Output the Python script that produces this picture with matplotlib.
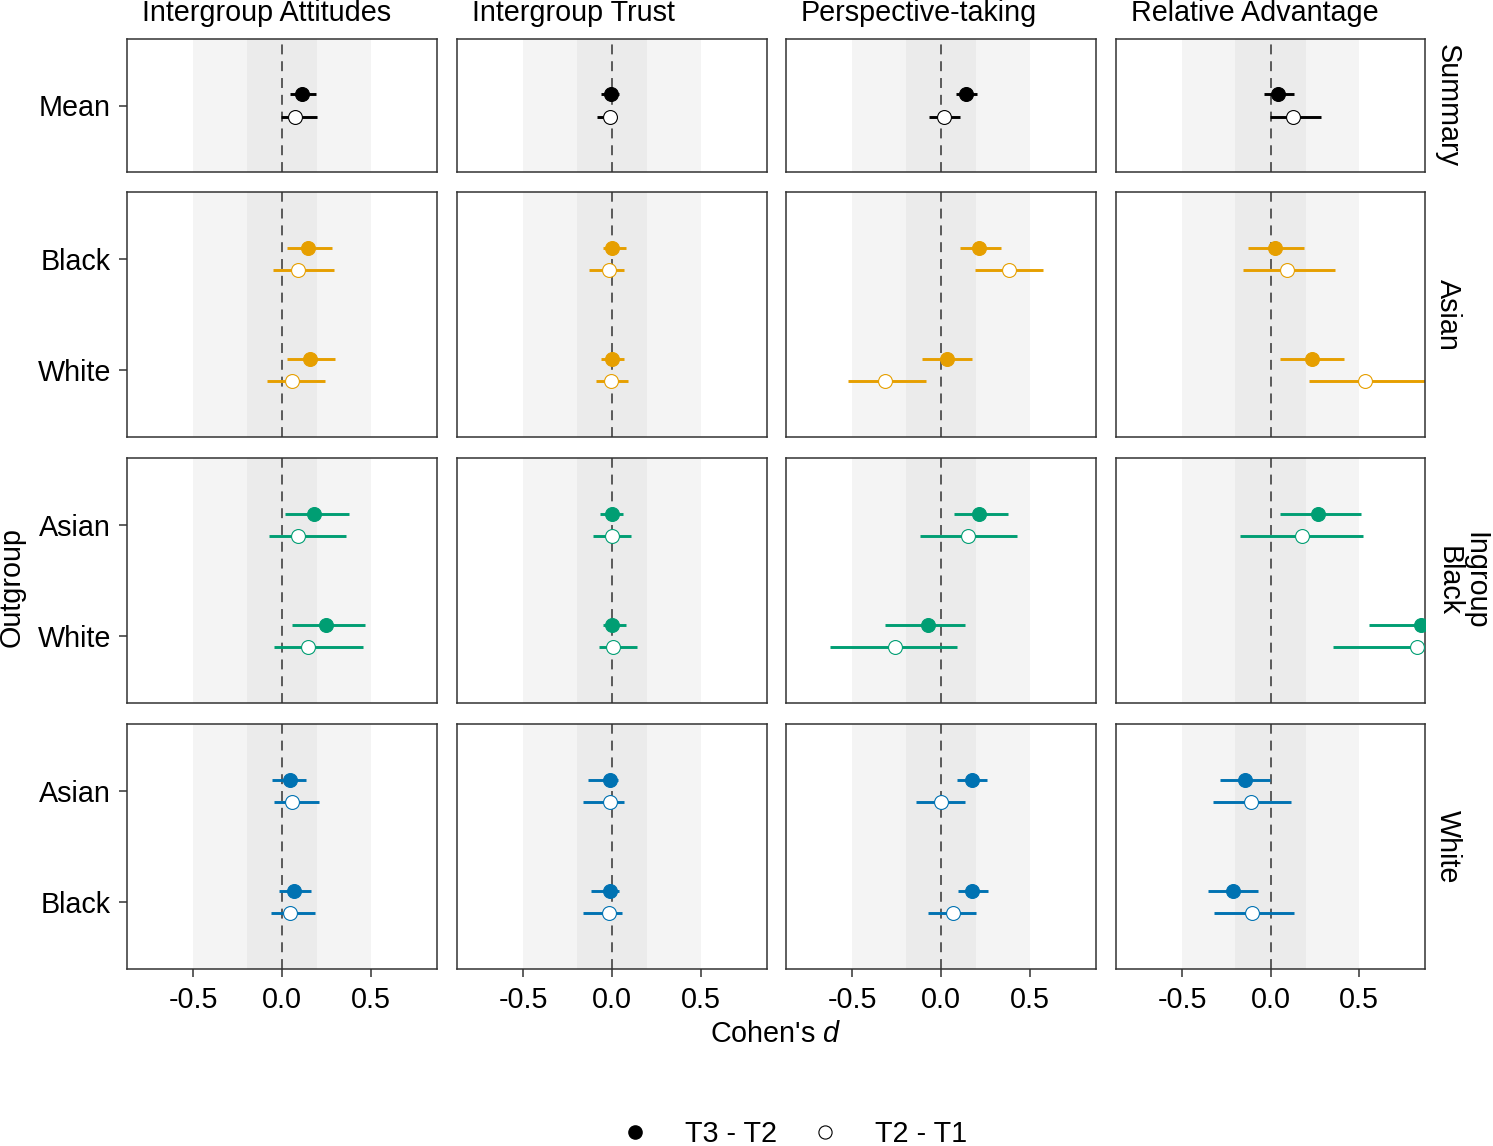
import matplotlib
matplotlib.use('Agg')
import matplotlib.pyplot as plt
from matplotlib.lines import Line2D

plt.rcParams['font.family'] = ['Liberation Sans', 'DejaVu Sans']
plt.rcParams['mathtext.fontset'] = 'custom'
plt.rcParams['mathtext.rm'] = 'Liberation Sans'
plt.rcParams['mathtext.it'] = 'Liberation Sans:italic'

measures = ["Intergroup Attitudes", "Intergroup Trust", "Perspective-taking", "Relative Advantage"]
ingroups = ["Summary", "Asian", "Ingroup\nBlack", "White"]
outgroups = [["Mean"], ["Black", "White"], ["Asian", "White"], ["Asian", "Black"]]
row_colors = ["#000000", "#E69F00", "#009E73", "#0072B2"]
contrasts = ["T3 - T2", "T2 - T1"]

# one list per outgroup, values across the 4 measures
# Summary
sum_t32_est = [[0.112, -0.005, 0.143, 0.045]]
sum_t32_lo = [[0.043, -0.060, 0.083, -0.038]]
sum_t32_hi = [[0.190, 0.040, 0.202, 0.135]]
sum_t21_est = [[0.076, -0.010, 0.019, 0.126]]
sum_t21_lo = [[-0.007, -0.085, -0.067, -0.002]]
sum_t21_hi = [[0.195, 0.029, 0.109, 0.285]]

# Asian ingroup (Black, White)
asian_t32_est = [[0.145, 0.002, 0.216, 0.024], [0.159, -0.002, 0.033, 0.235]]
asian_t32_lo = [[0.026, -0.048, 0.107, -0.126], [0.031, -0.060, -0.107, 0.052]]
asian_t32_hi = [[0.285, 0.078, 0.340, 0.192], [0.300, 0.067, 0.173, 0.416]]
asian_t21_est = [[0.090, -0.017, 0.382, 0.095], [0.057, -0.005, -0.314, 0.534]]
asian_t21_lo = [[-0.048, -0.128, 0.193, -0.154], [-0.083, -0.088, -0.525, 0.219]]
asian_t21_hi = [[0.295, 0.067, 0.575, 0.368], [0.242, 0.093, -0.086, 0.950]]

# Black ingroup (Asian, White)
black_t32_est = [[0.178, 0.002, 0.216, 0.271], [0.249, 0.002, -0.071, 0.850]]
black_t32_lo = [[0.019, -0.067, 0.071, 0.052], [0.059, -0.052, -0.316, 0.560]]
black_t32_hi = [[0.378, 0.062, 0.378, 0.513], [0.468, 0.081, 0.138, 1.150]]
black_t21_est = [[0.093, 0.002, 0.152, 0.176], [0.145, 0.007, -0.259, 0.827]]
black_t21_lo = [[-0.071, -0.109, -0.121, -0.171], [-0.043, -0.071, -0.627, 0.352]]
black_t21_hi = [[0.359, 0.107, 0.428, 0.523], [0.456, 0.143, 0.093, 1.300]]

# White ingroup (Asian, Black)
white_t32_est = [[0.043, -0.012, 0.176, -0.147], [0.069, -0.012, 0.176, -0.214]]
white_t32_lo = [[-0.057, -0.133, 0.088, -0.287], [-0.019, -0.121, 0.095, -0.352]]
white_t32_hi = [[0.133, 0.033, 0.261, -0.005], [0.164, 0.040, 0.266, -0.071]]
white_t21_est = [[0.057, -0.012, 0.000, -0.109], [0.043, -0.019, 0.067, -0.105]]
white_t21_lo = [[-0.043, -0.164, -0.140, -0.328], [-0.064, -0.162, -0.074, -0.318]]
white_t21_hi = [[0.209, 0.067, 0.138, 0.116], [0.188, 0.059, 0.197, 0.133]]

t32 = [(sum_t32_est, sum_t32_lo, sum_t32_hi), (asian_t32_est, asian_t32_lo, asian_t32_hi),
       (black_t32_est, black_t32_lo, black_t32_hi), (white_t32_est, white_t32_lo, white_t32_hi)]
t21 = [(sum_t21_est, sum_t21_lo, sum_t21_hi), (asian_t21_est, asian_t21_lo, asian_t21_hi),
       (black_t21_est, black_t21_lo, black_t21_hi), (white_t21_est, white_t21_lo, white_t21_hi)]

xticks = [-0.5, 0.0, 0.5]
xtick_labels = ["-0.5", "0.0", "0.5"]

W, H = 1493, 1146
fig = plt.figure(figsize=(W / 100, H / 100), dpi=100)
FS = 20.7
EDGE = '#333333'

col_px = [(127, 437), (457, 767), (786, 1096), (1116, 1425)]
row_px = [(39, 172), (192, 437), (458, 703), (724, 969)]


def rect(x0, x1, y0, y1):
    return [x0 / W, 1 - y1 / H, (x1 - x0) / W, (y1 - y0) / H]


dodge = 0.1
for r in range(4):
    cats = outgroups[r]
    col = row_colors[r]
    for c in range(4):
        ax = fig.add_axes(rect(col_px[c][0], col_px[c][1], row_px[r][0], row_px[r][1]))
        ax.axvspan(-0.5, 0.5, color='#F4F4F4', lw=0, zorder=0)
        ax.axvspan(-0.2, 0.2, color='#EBEBEB', lw=0, zorder=0)
        ax.axvline(0, color='#333333', lw=1.1, ls=(0, (6.5, 4.5)), zorder=1)
        for k, name in enumerate(cats):
            y = k + 1
            for (est, lo, hi), dy, filled in [(t32[r], -dodge, True), (t21[r], dodge, False)]:
                ax.plot([lo[k][c], hi[k][c]], [y + dy, y + dy], color=col, lw=2.1,
                        solid_capstyle='butt', zorder=2)
                ax.plot([est[k][c]], [y + dy], 'o', ms=10, mfc=col if filled else 'white',
                        mec=col, mew=0.8, zorder=3)
        ax.set_xlim(-0.875, 0.875)
        ax.set_ylim(len(cats) + 0.6, 0.4)
        for s in ax.spines.values():
            s.set_color(EDGE)
            s.set_linewidth(1.1)
        ax.tick_params(length=5.5, width=1.1, color=EDGE, labelsize=FS, labelcolor='black')
        ax.tick_params(axis='x', pad=7)
        ax.tick_params(axis='y', pad=6)
        if c == 0:
            ax.set_yticks(range(1, len(cats) + 1))
            ax.set_yticklabels(cats)
        else:
            ax.set_yticks([])
        if r == 3:
            ax.set_xticks(xticks)
            ax.set_xticklabels(xtick_labels)
        else:
            ax.set_xticks([])
        if r == 0:
            ax.text(15 / 310, 1 + 18 / 133, measures[c], transform=ax.transAxes, ha='left',
                    va='baseline', fontsize=FS)
    yc = (row_px[r][0] + row_px[r][1]) / 2
    xs = 1462 if r == 2 else 1448
    fig.text(xs / W, 1 - yc / H, ingroups[r], rotation=-90, ha='center', va='center',
             fontsize=FS, linespacing=0.9, multialignment='center')

fig.text(12 / W, 1 - 587 / H, "Outgroup", rotation=90, ha='center', va='center', fontsize=FS)
fig.text(776 / W, 1 - 1034 / H, "Cohen's $d$", ha='center', va='center', fontsize=FS)

handles = [Line2D([], [], ls='none', marker='o', ms=9.5, mfc='black', mec='black'),
           Line2D([], [], ls='none', marker='o', ms=9.5, mfc='white', mec='black', mew=0.8)]
fig.legend(handles, contrasts, loc='center', bbox_to_anchor=(794 / W, 1 - 1134 / H),
           ncol=2, frameon=False, fontsize=FS, handlelength=1.0, handletextpad=1.25,
           columnspacing=1.15, borderpad=0)

fig.savefig("out.png", dpi=100)
